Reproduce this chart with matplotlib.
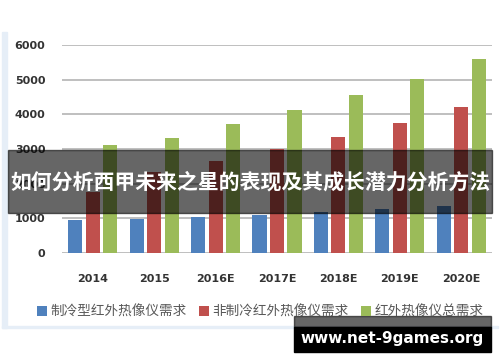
import numpy as np
import matplotlib
matplotlib.use('Agg')
import matplotlib.pyplot as plt
from matplotlib.patches import Rectangle

plt.rcParams['font.family'] = ['Noto Sans CJK SC', 'DejaVu Sans']

# data
years = ['2014', '2015', '2016E', '2017E', '2018E', '2019E', '2020E']
cooled = [950, 980, 1050, 1100, 1190, 1260, 1355]
uncooled = [1770, 2330, 2650, 3000, 3355, 3740, 4200]
total = [3115, 3330, 3720, 4115, 4570, 5010, 5595]
names = ['制冷型红外热像仪需求', '非制冷红外热像仪需求', '红外热像仪总需求']
colors = ['#4F81BD', '#C0504D', '#9BBB59']

W, H = 500, 362
fig = plt.figure(figsize=(W/100, H/100), dpi=100)
ax = fig.add_axes([62/W, 1-253/H, 430/W, 208/H])

x = np.arange(len(years))
bw = 0.23
off = 0.285
for i, vals in enumerate([cooled, uncooled, total]):
    ax.bar(x + (i-1)*off, vals, bw, color=colors[i], label=names[i], zorder=3)

ax.set_xlim(-0.5, len(years)-0.5)
ax.set_ylim(0, 6000)
ax.set_yticks(np.arange(0, 6001, 1000))
ax.set_xticks(x)
ax.set_xticklabels(years)
ax.yaxis.grid(True, color='#BFBFBF', linewidth=1.4, zorder=0)
for s in ax.spines.values():
    s.set_visible(False)
ax.tick_params(length=0, labelsize=8, labelcolor='#333333')
ax.tick_params(axis='y', pad=12)
ax.tick_params(axis='x', pad=15)
for t in ax.get_xticklabels() + ax.get_yticklabels():
    t.set_fontweight('bold')
    t.set_family('DejaVu Sans')

leg = fig.legend(loc='center', bbox_to_anchor=(0.52, 1-312/H), ncol=3, frameon=False,
                 handlelength=0.75, handleheight=0.75, handletextpad=0.25,
                 columnspacing=0.9, fontsize=9.8, borderaxespad=0)
for t in leg.get_texts():
    t.set_color('#595959')

# picture frame
fig.patches.append(Rectangle((2/W, 1-328/H), 5/W, 296/H, transform=fig.transFigure,
                             color='#E6EEF7', zorder=0))
fig.patches.append(Rectangle((2/W, 1-328/H), 496/W, 2/H, transform=fig.transFigure,
                             color='#E6EEF7', zorder=0))

# title banner
fig.patches.append(Rectangle((8/W, 1-213/H), 484/W, 63/H, transform=fig.transFigure,
                             color='black', alpha=0.6, zorder=5))
fig.text(250/W, 1-182/H, '如何分析西甲未来之星的表现及其成长潜力分析方法', color='white',
         fontsize=15, fontweight='bold', ha='center', va='center', zorder=6)

# watermark
fig.patches.append(Rectangle((294/W, 1-327/H), 197/W, 11/H, transform=fig.transFigure,
                             color='black', alpha=0.6, zorder=5))
fig.patches.append(Rectangle((294/W, 1-352/H), 197/W, 25/H, transform=fig.transFigure,
                             color='black', zorder=5))
fig.text(392/W, 1-339/H, 'www.net-9games.org', color='white', fontsize=11,
         fontweight='bold', family='DejaVu Sans', ha='center', va='center', zorder=6)

fig.savefig('out.png', dpi=100)
